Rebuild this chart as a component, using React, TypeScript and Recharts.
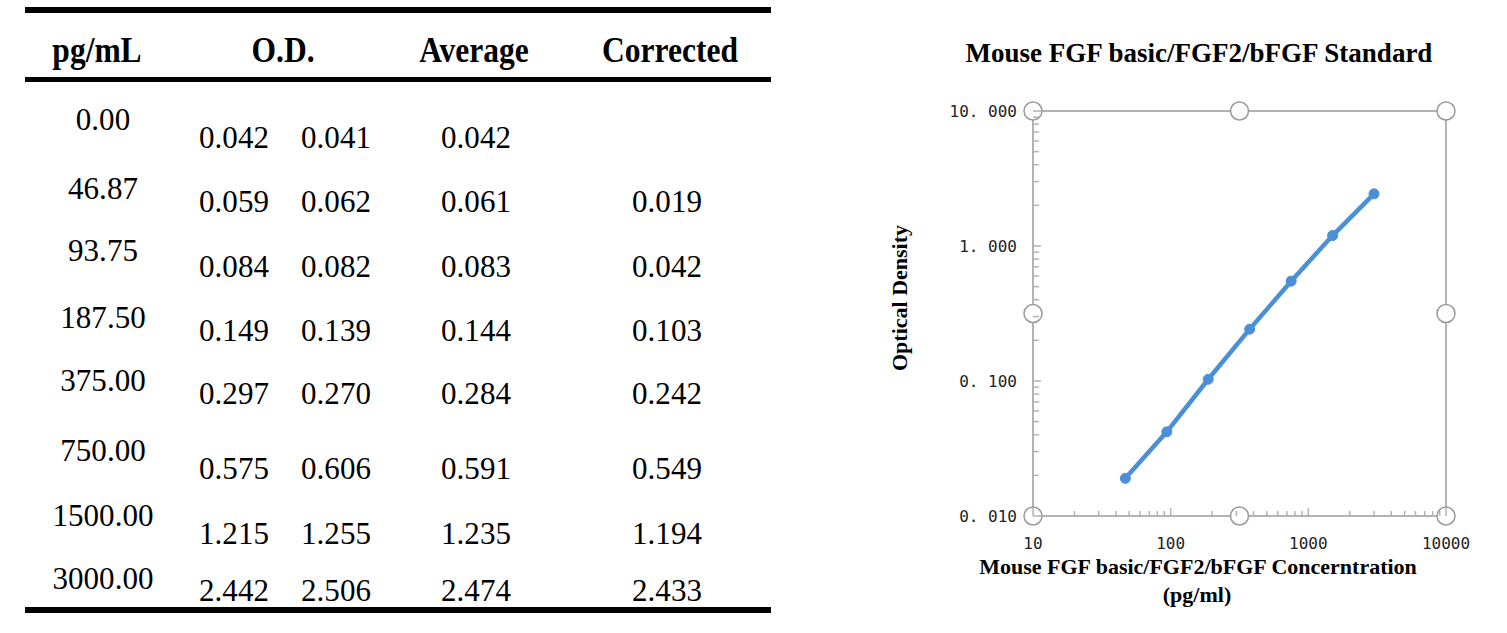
import React from 'react';
import { LineChart, Line, XAxis, YAxis, ReferenceLine, ReferenceDot } from 'recharts';

// standard curve table
const headers = ['pg/mL', 'O.D.', 'Average', 'Corrected'];
const standards = ['0.00', '46.87', '93.75', '187.50', '375.00', '750.00', '1500.00', '3000.00'];
const od1 = ['0.042', '0.059', '0.084', '0.149', '0.297', '0.575', '1.215', '2.442'];
const od2 = ['0.041', '0.062', '0.082', '0.139', '0.270', '0.606', '1.255', '2.506'];
const averages = ['0.042', '0.061', '0.083', '0.144', '0.284', '0.591', '1.235', '2.474'];
const correctedText = ['', '0.019', '0.042', '0.103', '0.242', '0.549', '1.194', '2.433'];

// plotted series
const concentrations = [46.87, 93.75, 187.5, 375, 750, 1500, 3000];
const corrected = [0.019, 0.042, 0.103, 0.242, 0.549, 1.194, 2.433];

const yDecades = [0.01, 0.1, 1, 10];
const yTickLabels = ['0. 010', '0. 100', '1. 000', '10. 000'];
const xDecades = [10, 100, 1000, 10000];
const xTickLabels = ['10', '100', '1000', '10000'];

// open circles sitting on the frame
const frameHandles = [
  { x: 10, y: 10 }, { x: 316.23, y: 10 }, { x: 10000, y: 10 },
  { x: 10, y: 0.3162 }, { x: 10000, y: 0.3162 },
  { x: 10, y: 0.01 }, { x: 316.23, y: 0.01 }, { x: 10000, y: 0.01 },
];

const chartData = concentrations.map((c, i) => ({ conc: c, od: corrected[i] }));

const withMinors = (decades: number[]) => {
  const out: number[] = [];
  decades.forEach((d, i) => {
    out.push(d);
    if (i < decades.length - 1) {
      for (let m = 2; m <= 9; m++) out.push(+(d * m).toPrecision(3));
    }
  });
  return out;
};

const yTicks = withMinors(yDecades);
const xTicks = withMinors(xDecades);

const majorIndex = (list: number[], v: number) => list.findIndex((d) => Math.abs(d - v) / d < 1e-6);

const axisGrey = '#b3b3b3';
const lineBlue = '#4b8fd6';

const YTick = (props: any) => {
  const { x, y, payload } = props;
  const idx = majorIndex(yDecades, payload.value);
  return (
    <g>
      <line x1={x} x2={x + (idx >= 0 ? 8 : 6)} y1={y} y2={y} stroke={axisGrey} strokeWidth={1.5} />
      {idx >= 0 && (
        <text x={x - 16} y={y} textAnchor="end" dominantBaseline="central"
          style={{ fontFamily: '"DejaVu Sans Mono", monospace', fontSize: 16, fill: '#222' }}>
          {yTickLabels[idx]}
        </text>
      )}
    </g>
  );
};

const XTick = (props: any) => {
  const { x, y, payload } = props;
  const idx = majorIndex(xDecades, payload.value);
  return (
    <g>
      <line x1={x} x2={x} y1={y} y2={y - (idx >= 0 ? 8 : 5)} stroke={axisGrey} strokeWidth={1.5} />
      {idx >= 0 && (
        <text x={x} y={y + 27} textAnchor="middle" dominantBaseline="central"
          style={{ fontFamily: '"DejaVu Sans Mono", monospace', fontSize: 16, fill: '#222' }}>
          {xTickLabels[idx]}
        </text>
      )}
    </g>
  );
};

const serif = '"Liberation Serif", "Times New Roman", serif';

const Cell: React.FC<{ x: number; y: number; bold?: boolean; size: number; text: string; sx?: number }> = ({ x, y, bold, size, text, sx }) => (
  <div style={{
    position: 'absolute', left: x, top: y, transform: `translate(-50%, -50%) scaleX(${sx ?? (bold ? 0.9 : 0.97)})`,
    fontFamily: serif, fontWeight: bold ? 700 : 400, fontSize: size, lineHeight: 1, whiteSpace: 'nowrap', color: '#000',
  }}>{text}</div>
);

const App: React.FC = () => {
  const headerX = [97, 283, 474, 670];
  const colX = [103, 234, 336, 476, 667];
  const odRowY = [137, 201, 266, 330, 393, 468, 533, 590];
  const pgRowY = [119, 188, 250, 317, 380, 450, 515, 578];

  return (
    <div style={{ position: 'absolute', left: 0, top: 0, width: 1507, height: 633, background: '#fff', overflow: 'hidden' }}>
      {/* table rules */}
      <div style={{ position: 'absolute', left: 25, top: 7, width: 746, height: 6, background: '#000' }} />
      <div style={{ position: 'absolute', left: 25, top: 77, width: 746, height: 5, background: '#000' }} />
      <div style={{ position: 'absolute', left: 25, top: 607, width: 746, height: 6, background: '#000' }} />

      {headers.map((h, i) => (
        <Cell key={h} x={headerX[i]} y={50} bold size={35} text={h} />
      ))}
      {standards.map((s, i) => (
        <React.Fragment key={s}>
          <Cell x={colX[0]} y={pgRowY[i]} size={32} text={s} />
          <Cell x={colX[1]} y={odRowY[i]} size={32} text={od1[i]} />
          <Cell x={colX[2]} y={odRowY[i]} size={32} text={od2[i]} />
          <Cell x={colX[3]} y={odRowY[i]} size={32} text={averages[i]} />
          {correctedText[i] && <Cell x={colX[4]} y={odRowY[i]} size={32} text={correctedText[i]} />}
        </React.Fragment>
      ))}

      {/* chart titles */}
      <Cell x={1199} y={53} bold size={27} sx={1} text="Mouse FGF basic/FGF2/bFGF Standard" />
      <Cell x={1198} y={567} bold size={22} sx={1} text="Mouse FGF basic/FGF2/bFGF Concerntration" />
      <Cell x={1197} y={595} bold size={22} sx={1} text="(pg/ml)" />
      <div style={{
        position: 'absolute', left: 900, top: 298, transform: 'translate(-50%, -50%) rotate(-90deg)',
        fontFamily: serif, fontWeight: 700, fontSize: 22, lineHeight: 1, whiteSpace: 'nowrap',
      }}>Optical Density</div>

      <div style={{ position: 'absolute', left: 860, top: 20 }}>
        <LineChart width={620} height={600} data={chartData} margin={{ top: 91, right: 34, bottom: 0, left: 0 }}>
          <XAxis dataKey="conc" type="number" scale="log" domain={[10, 10000]} allowDataOverflow
            ticks={xTicks} interval={0} tick={<XTick />} tickLine={false} tickSize={0} tickMargin={0}
            axisLine={false} height={104} />
          <YAxis type="number" scale="log" domain={[0.01, 10]} allowDataOverflow
            ticks={yTicks} interval={0} tick={<YTick />} tickLine={false} tickSize={0} tickMargin={0}
            axisLine={false} width={173} />
          <ReferenceLine x={10} stroke={axisGrey} strokeWidth={2} />
          <ReferenceLine x={10000} stroke={axisGrey} strokeWidth={2} />
          <ReferenceLine y={0.01} stroke={axisGrey} strokeWidth={2} />
          <ReferenceLine y={10} stroke={axisGrey} strokeWidth={2} />
          <Line dataKey="od" stroke={lineBlue} strokeWidth={4.5} isAnimationActive={false}
            dot={{ r: 5, fill: lineBlue, stroke: lineBlue, strokeWidth: 1 }} />
          {frameHandles.map((h, i) => (
            <ReferenceDot key={i} x={h.x} y={h.y} r={9} fill="#fff" stroke="#9a9a9a" strokeWidth={1.5} ifOverflow="visible" />
          ))}
        </LineChart>
      </div>
    </div>
  );
};

export default App;
